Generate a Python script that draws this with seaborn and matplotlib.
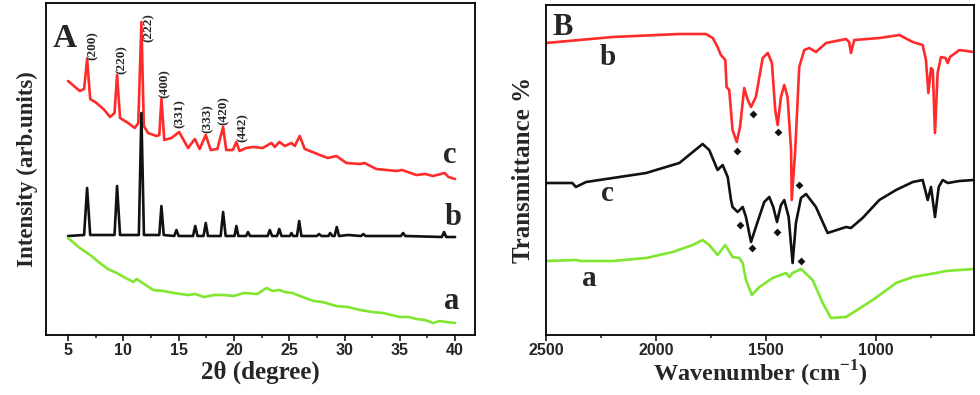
import numpy as np
import pandas as pd
import matplotlib
matplotlib.use("Agg")
import matplotlib.pyplot as plt
import seaborn as sns
from matplotlib.ticker import MultipleLocator

# ---------------- panel A: XRD (2theta, intensity in arb. units) ----------------
xrd_c_x = [5.0, 6.06, 6.45, 6.72, 7.0, 7.57, 8.2, 8.8, 9.2, 9.43, 9.7, 10.43, 11.03, 11.35,
           11.63, 11.85, 12.23, 13.0, 13.25, 13.44, 13.7, 14.35, 15.04, 15.85, 16.46, 16.9,
           17.45, 17.9, 18.5, 19.02, 19.3, 19.9, 20.22, 20.5, 21.1, 21.73, 22.6, 23.39, 23.7,
           24.1, 24.6, 25.2, 25.5, 25.95, 26.4, 27.1, 27.76, 28.5, 29.26, 30.17, 31.4, 31.8,
           32.88, 33.8, 34.69, 35.2, 36.5, 37.3, 38.0, 39.06, 39.4, 40.0]
xrd_c_y = [254, 244, 246, 276, 236, 232, 226, 218, 222, 260, 217, 212, 207, 212,
           313, 209, 202, 199, 200, 236, 195, 197, 203, 187, 196, 186,
           200, 185, 186, 208, 185, 185, 193, 184, 187, 188, 187, 192, 188,
           193, 189, 192, 189, 199, 186, 183, 180, 177, 179, 172, 171, 172,
           166, 165, 164, 165, 160, 161, 159, 162, 158, 156]

xrd_b_x = [5.0, 6.45, 6.72, 7.0, 9.2, 9.43, 9.7, 11.4, 11.63, 11.86, 13.25, 13.44, 13.65,
           14.6, 14.8, 15.0, 16.3, 16.5, 16.7, 17.25, 17.45, 17.65, 18.8, 19.02, 19.25,
           20.05, 20.22, 20.4, 21.1, 21.27, 21.45, 23.05, 23.24, 23.45, 23.9, 24.1, 24.3,
           25.05, 25.2, 25.35, 25.7, 25.9, 26.1, 27.5, 27.7, 27.9, 28.55, 28.7, 28.9,
           29.1, 29.3, 29.5, 30.3, 31.5, 31.7, 31.9, 35.1, 35.3, 35.5, 38.8, 39.0, 39.2, 40.0]
xrd_b_y = [99, 100, 147, 100, 100, 149, 100, 100, 222, 100, 100, 129, 100,
           99, 105, 99, 99, 109, 99, 99, 112, 99, 99, 123, 99,
           99, 109, 99, 99, 103, 99, 99, 105, 99, 99, 106, 99,
           99, 102, 99, 99, 114, 99, 99, 101, 99, 99, 102, 99,
           99, 108, 99, 100, 99, 101, 99, 99, 102, 99, 98, 103, 98, 98]

xrd_a_x = [5.0, 6.06, 7.0, 7.87, 8.6, 9.4, 10.2, 10.9, 11.2, 12.7, 13.6, 14.6, 15.8,
           16.5, 17.3, 18.2, 19.1, 20.0, 20.9, 22.1, 22.95, 23.5, 24.1, 24.6, 25.3,
           26.2, 27.2, 28.0, 29.27, 30.3, 31.4, 32.5, 33.5, 35.0, 35.8, 36.5, 37.3,
           38.0, 38.6, 39.2, 40.0]
xrd_a_y = [97, 87, 80, 72, 66, 62, 57, 53, 56, 45, 44, 42, 40,
           41, 38, 40, 40, 39, 42, 41, 47, 44, 45, 43, 42,
           38, 34, 33, 29, 28, 25, 23, 22, 18, 18, 16, 15,
           12, 14, 13, 12]

peak_labels = ["(200)", "(220)", "(222)", "(400)", "(331)", "(333)", "(420)", "(442)"]
peak_label_pos = [(7.2, 275), (9.86, 261), (12.3, 293), (13.75, 237),
                  (15.1, 207), (17.6, 202), (19.1, 210), (20.8, 193)]

# ---------------- panel B: FTIR (wavenumber, transmittance) ----------------
ftir_b_x = [2500, 2197, 1894, 1773, 1742, 1720, 1705, 1685, 1679, 1667, 1652, 1633, 1618,
            1599, 1583, 1568, 1546, 1515, 1492, 1473, 1458, 1447, 1432, 1417, 1402, 1386,
            1383, 1367, 1349, 1326, 1303, 1273, 1227, 1136, 1122, 1114, 1099, 985, 894,
            833, 788, 773, 762, 750, 742, 732, 720, 705, 684, 674, 664, 621, 556]
ftir_b_y = [292, 298, 301, 301, 297, 288, 280, 275, 248, 245, 205, 193, 208,
            247, 235, 228, 238, 277, 282, 272, 225, 210, 238, 250, 238, 185,
            135, 185, 268, 285, 287, 283, 292, 296, 293, 282, 295, 297, 300,
            293, 290, 275, 242, 267, 265, 202, 262, 278, 277, 272, 278, 285, 283]

ftir_c_x = [2500, 2380, 2364, 2318, 2045, 1894, 1788, 1758, 1720, 1697, 1674, 1659, 1652,
            1629, 1606, 1591, 1568, 1546, 1508, 1485, 1467, 1450, 1432, 1417, 1397, 1379,
            1364, 1341, 1318, 1273, 1220, 1136, 1114, 1061, 985, 909, 833, 788, 765, 750,
            732, 715, 697, 674, 621, 556]
ftir_c_y = [152, 152, 148, 153, 162, 172, 191, 185, 165, 170, 158, 135, 128,
            123, 128, 118, 93, 108, 133, 138, 128, 113, 130, 135, 118, 72,
            112, 137, 141, 128, 102, 108, 107, 117, 135, 145, 153, 155, 135, 148,
            118, 148, 155, 152, 154, 155]

ftir_a_x = [2500, 2364, 2340, 2197, 2045, 1924, 1833, 1788, 1758, 1720, 1685, 1652, 1621,
            1606, 1591, 1564, 1530, 1470, 1409, 1394, 1379, 1341, 1288, 1242, 1205, 1136,
            1015, 909, 833, 727, 682, 556]
ftir_a_y = [74, 75, 74, 74, 77, 83, 90, 95, 90, 80, 90, 78, 77,
            72, 55, 40, 48, 57, 62, 58, 62, 66, 55, 32, 17, 18,
            35, 52, 58, 62, 64, 66]

marker_x = [1632, 1561, 1447, 1352, 1618, 1564, 1450, 1341]
marker_y = [184, 221, 203, 150, 110, 87, 103, 74]

RED = "#ff2a2a"
BLACK = "#111111"
GREEN = "#80e630"
SERIF = ["Liberation Serif", "DejaVu Serif"]
SANS = ["Liberation Sans", "DejaVu Sans"]

sns.set_theme(style="ticks")
plt.rcParams["font.family"] = SANS
plt.rcParams["axes.linewidth"] = 1.3
plt.rcParams["mathtext.fontset"] = "custom"
plt.rcParams["mathtext.bf"] = "Liberation Serif:bold"
plt.rcParams["mathtext.rm"] = "Liberation Serif:bold"

fig = plt.figure(figsize=(9.8, 3.95), dpi=100)
axA = fig.add_axes([0.0469, 0.1519, 0.4378, 0.8405])
axB = fig.add_axes([0.5571, 0.1519, 0.4367, 0.8354])


def draw(ax, x, y, color):
    df = pd.DataFrame({"x": x, "y": y})
    sns.lineplot(data=df, x="x", y="y", ax=ax, color=color, lw=1.9,
                 sort=False, estimator=None)


draw(axA, xrd_c_x, xrd_c_y, RED)
draw(axA, xrd_b_x, xrd_b_y, BLACK)
draw(axA, xrd_a_x, xrd_a_y, GREEN)

for lab, (px, py) in zip(peak_labels, peak_label_pos):
    axA.text(px, py, lab, rotation=90, ha="center", va="bottom",
             fontsize=9.5, fontweight="bold", family=SERIF)
for lab, (px, py) in zip(["c", "b", "a"], [(39.5, 180), (39.8, 118), (39.7, 33)]):
    axA.text(px, py, lab, ha="center", va="center", fontsize=22,
             fontweight="bold", family=SERIF)
axA.text(0.016, 0.867, "A", transform=axA.transAxes, fontsize=24,
         fontweight="bold", family=SERIF, va="baseline", ha="left")

axA.set_xlim(3.0, 41.8)
axA.set_ylim(0, 332)
axA.xaxis.set_major_locator(MultipleLocator(5))
axA.xaxis.set_minor_locator(MultipleLocator(2.5))
axA.set_xlabel("2θ (degree)", fontsize=18, fontweight="bold", family=SERIF)
axA.set_ylabel("Intensity (arb.units)", fontsize=16.5, fontweight="bold", family=SERIF, labelpad=6)
axA.xaxis.label.set_verticalalignment("baseline")
axA.xaxis.set_label_coords(0.5, -0.13)

draw(axB, ftir_b_x, ftir_b_y, RED)
draw(axB, ftir_c_x, ftir_c_y, BLACK)
draw(axB, ftir_a_x, ftir_a_y, GREEN)
sns.scatterplot(x=marker_x, y=marker_y, ax=axB, marker="D", s=16, color=BLACK,
                edgecolor=BLACK, linewidth=0, zorder=5)

for lab, (px, py) in zip(["b", "c", "a"], [(2221, 278), (2221, 142), (2303, 57)]):
    axB.text(px, py, lab, ha="center", va="center", fontsize=21,
             fontweight="bold", family=SERIF)
axB.text(0.014, 0.909, "B", transform=axB.transAxes, fontsize=22,
         fontweight="bold", family=SERIF, va="baseline", ha="left")

axB.set_xlim(2500, 555)
axB.set_ylim(0, 330)
axB.xaxis.set_major_locator(MultipleLocator(500))
axB.xaxis.set_minor_locator(MultipleLocator(250))
axB.set_xlabel("Wavenumber (cm$^{\\mathbf{-1}}$)", fontsize=17.5, fontweight="bold", family=SERIF)
axB.set_ylabel("Transmittance %", fontsize=18, fontweight="bold", family=SERIF, labelpad=8)
axB.xaxis.label.set_verticalalignment("baseline")
axB.xaxis.set_label_coords(0.5, -0.14)

for ax in (axA, axB):
    ax.set_yticks([])
    ax.tick_params(axis="x", which="major", direction="out", length=4, width=1.3,
                   pad=2, labelsize=11.5)
    ax.tick_params(axis="x", which="minor", direction="out", length=2.5, width=1.2)
    for t in ax.get_xticklabels():
        t.set_fontweight("bold")
    for s in ax.spines.values():
        s.set_visible(True)
        s.set_color("black")

fig.savefig("out.png", dpi=100)
